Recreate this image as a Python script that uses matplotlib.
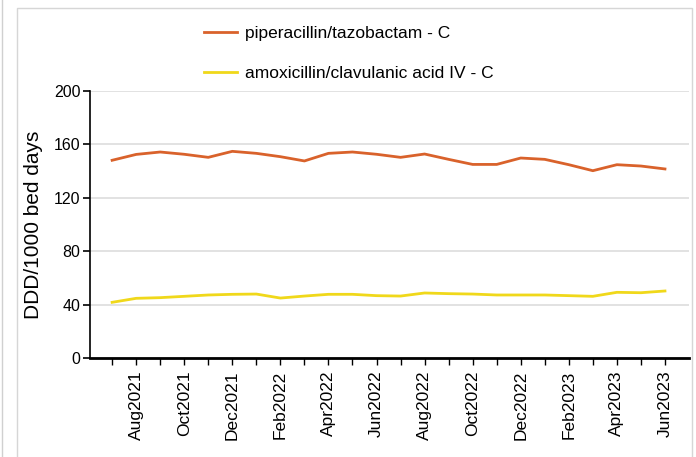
import matplotlib
matplotlib.use("Agg")
import matplotlib.pyplot as plt
from matplotlib.lines import Line2D

plt.rcParams['font.family'] = ['Liberation Sans', 'DejaVu Sans']

months = ["Jul2021", "Aug2021", "Sep2021", "Oct2021", "Nov2021", "Dec2021",
          "Jan2022", "Feb2022", "Mar2022", "Apr2022", "May2022", "Jun2022",
          "Jul2022", "Aug2022", "Sep2022", "Oct2022", "Nov2022", "Dec2022",
          "Jan2023", "Feb2023", "Mar2023", "Apr2023", "May2023", "Jun2023"]

pip_taz = [148.1, 152.5, 154.3, 152.6, 150.3, 154.8, 153.3, 150.8, 147.6, 153.3,
           154.3, 152.6, 150.3, 152.8, 148.8, 145.0, 145.0, 149.8, 148.8, 144.8,
           140.3, 144.8, 143.8, 141.6]
amox_clav = [41.7, 44.7, 45.2, 46.2, 47.2, 47.7, 47.9, 44.9, 46.4, 47.7,
             47.7, 46.7, 46.4, 48.7, 48.2, 47.9, 47.2, 47.2, 47.2, 46.7,
             46.2, 49.2, 48.9, 50.2]

series_names = ["piperacillin/tazobactam - C", "amoxicillin/clavulanic acid IV - C"]
series_colors = ["#d9622b", "#f0d81a"]


def main():
    fig = plt.figure(figsize=(6.96, 4.57), dpi=100)
    ax = fig.add_axes([90 / 696, 1 - 358 / 457, 599 / 696, 267 / 457])

    x = list(range(len(months)))
    ax.plot(x, pip_taz, color=series_colors[0], lw=2, label=series_names[0])
    ax.plot(x, amox_clav, color=series_colors[1], lw=2, label=series_names[1])

    ax.set_ylim(0, 200)
    ax.set_yticks(range(0, 201, 40))
    ax.set_xlim(-0.92, 24.0)
    ax.set_xticks(x)
    ax.set_xticklabels([m if i % 2 == 1 else "" for i, m in enumerate(months)],
                       rotation=90, fontsize=12.5)
    ax.tick_params(axis='y', labelsize=11.5, length=5, width=1.2, pad=2)
    ax.tick_params(axis='x', length=5, width=1, pad=4)
    ax.grid(axis='y', color='#dddddd', lw=1.2)
    ax.set_axisbelow(True)

    for s in ['top', 'right']:
        ax.spines[s].set_visible(False)
    ax.spines['bottom'].set_linewidth(2)
    ax.spines['left'].set_linewidth(1.2)

    ax.set_ylabel("DDD/1000 bed days", fontsize=15, labelpad=8)

    fig.legend(loc='upper left', bbox_to_anchor=(188 / 696, 1 - 10 / 457),
               frameon=False, fontsize=12.5, handlelength=1.9, handletextpad=0.5,
               labelspacing=1.42)

    # light panel border like the dashboard card
    fig.add_artist(Line2D([1.5 / 696, 1.5 / 696], [0, 1], color='#d0d0d0', lw=1))
    fig.add_artist(Line2D([17 / 696, 17 / 696, 692 / 696, 692 / 696],
                          [0, 1 - 8 / 457, 1 - 8 / 457, 0], color='#d6d6d6', lw=1))

    fig.savefig("out.png", dpi=100)


if __name__ == "__main__":
    main()
